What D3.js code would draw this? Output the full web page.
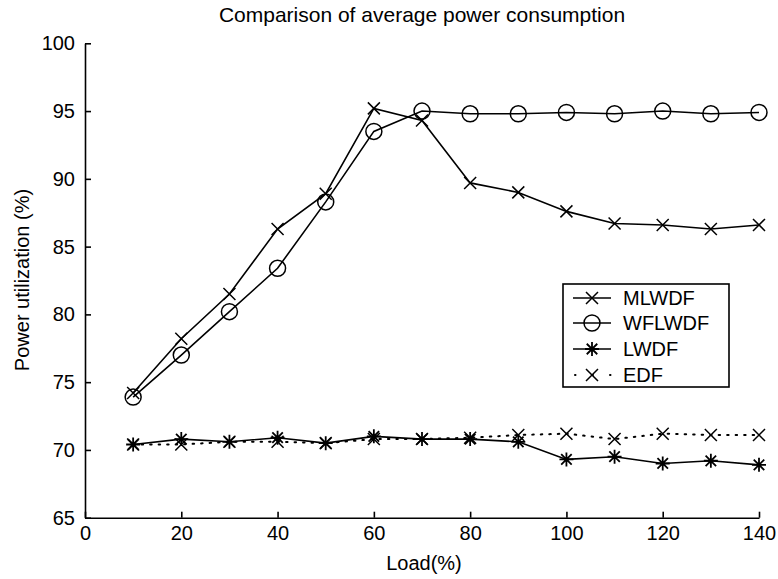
<!DOCTYPE html>
<html>
<head>
<meta charset="utf-8">
<script src="https://cdn.jsdelivr.net/npm/d3@7"></script>
<style>
  body { margin: 0; background: #fff; }
  text { font-family: "Liberation Sans", Arial, sans-serif; fill: #000; }
</style>
</head>
<body>
<div class="chart-container"></div>
<script>
var loads = [10, 20, 30, 40, 50, 60, 70, 80, 90, 100, 110, 120, 130, 140];
var mlwdf = [74.2, 78.2, 81.5, 86.3, 88.9, 95.2, 94.3, 89.7, 89.0, 87.6, 86.7, 86.6, 86.3, 86.6];
var wflwdf = [73.9, 77.0, 80.2, 83.4, 88.3, 93.5, 95.0, 94.8, 94.8, 94.9, 94.8, 95.0, 94.8, 94.9];
var lwdf = [70.4, 70.8, 70.6, 70.9, 70.5, 71.0, 70.8, 70.8, 70.6, 69.3, 69.5, 69.0, 69.2, 68.9];
var edf = [70.4, 70.4, 70.6, 70.6, 70.5, 70.8, 70.8, 70.9, 71.1, 71.2, 70.8, 71.2, 71.1, 71.1];
var seriesNames = ['MLWDF', 'WFLWDF', 'LWDF', 'EDF'];
var xTicks = [0, 20, 40, 60, 80, 100, 120, 140];
var yTicks = [65, 70, 75, 80, 85, 90, 95, 100];

var svgWidth = 778, svgHeight = 579;
var x = d3.scaleLinear().domain([0, 140]).range([85, 759]);
var y = d3.scaleLinear().domain([65, 100]).range([517.7, 43.3]);

var svg = d3.select('.chart-container').append('svg')
    .attr('width', svgWidth).attr('height', svgHeight);

// axes, ticks pointing in like matlab
var xAxis = svg.append('g').attr('transform', 'translate(0,' + y(65) + ')')
    .call(d3.axisBottom(x).tickValues(xTicks).tickSizeInner(-6).tickSizeOuter(0).tickPadding(8));
var yAxis = svg.append('g').attr('transform', 'translate(' + x(0) + ',0)')
    .call(d3.axisLeft(y).tickValues(yTicks).tickSizeInner(-6).tickSizeOuter(0).tickPadding(10));
[xAxis, yAxis].forEach(function(a){
    a.selectAll('path,line').attr('stroke', '#000').attr('stroke-width', 1.6);
    a.selectAll('text').style('font-size', '20px').style('font-family', '"Liberation Sans", Arial, sans-serif');
});

svg.append('text').attr('x', 422).attr('y', 22).attr('text-anchor', 'middle')
    .style('font-size', '21px').text('Comparison of average power consumption');
svg.append('text').attr('x', 424).attr('y', 570).attr('text-anchor', 'middle')
    .style('font-size', '20px').text('Load(%)');
svg.append('text').attr('transform', 'translate(29,280) rotate(-90)').attr('text-anchor', 'middle')
    .style('font-size', '20px').text('Power utilization (%)');

function toPoints(vals){
    return vals.map(function(v, i){ return {x: loads[i], y: v}; });
}
var line = d3.line().x(function(d){ return x(d.x); }).y(function(d){ return y(d.y); });

// marker shapes, drawn around 0,0
function crossPath(s){ return 'M' + (-s) + ',' + (-s) + 'L' + s + ',' + s + 'M' + (-s) + ',' + s + 'L' + s + ',' + (-s); }
function starPath(s){
    var d = 'M' + (-s) + ',0L' + s + ',0M0,' + (-s) + 'L0,' + s;
    var k = s * 0.75;
    return d + 'M' + (-k) + ',' + (-k) + 'L' + k + ',' + k + 'M' + (-k) + ',' + k + 'L' + k + ',' + (-k);
}
var series = [
    {name: 'MLWDF', vals: mlwdf, dash: null, marker: 'x'},
    {name: 'WFLWDF', vals: wflwdf, dash: null, marker: 'o'},
    {name: 'LWDF', vals: lwdf, dash: null, marker: '*'},
    {name: 'EDF', vals: edf, dash: '1.5,7', marker: 'x'}
];

function drawMarker(g, type){
    if(type == 'o'){
        g.append('circle').attr('r', 8).attr('fill', 'none').attr('stroke', '#000').attr('stroke-width', 1.5);
    } else if(type == 'x'){
        g.append('path').attr('d', crossPath(6)).attr('stroke', '#000').attr('stroke-width', 1.5);
    } else {
        g.append('path').attr('d', starPath(7)).attr('stroke', '#000').attr('stroke-width', 1.8);
    }
}

series.forEach(function(s){
    var pts = toPoints(s.vals);
    svg.append('path').datum(pts).attr('d', line)
        .attr('fill', 'none').attr('stroke', '#000')
        .attr('stroke-width', s.dash ? 2 : 1.6)
        .attr('stroke-linecap', s.dash ? 'round' : 'butt')
        .attr('stroke-dasharray', s.dash);
    svg.append('g').selectAll('g').data(pts).enter().append('g')
        .attr('transform', function(d){ return 'translate(' + x(d.x) + ',' + y(d.y) + ')'; })
        .each(function(){ drawMarker(d3.select(this), s.marker); });
});

// legend
var legend = svg.append('g');
legend.append('rect').attr('x', 563).attr('y', 284).attr('width', 166).attr('height', 103)
    .attr('fill', '#fff').attr('stroke', '#000').attr('stroke-width', 1.6);
var rowY = [298, 323, 349, 375];
series.forEach(function(s, i){
    var g = legend.append('g').attr('transform', 'translate(0,' + rowY[i] + ')');
    g.append('line').attr('x1', 573).attr('x2', 611).attr('y1', 0).attr('y2', 0)
        .attr('stroke', '#000').attr('stroke-width', s.dash ? 2 : 1.6)
        .attr('stroke-linecap', s.dash ? 'round' : 'butt')
        .attr('stroke-dasharray', s.dash ? '0.5,17' : null)
        .attr('stroke-dashoffset', s.dash ? -2 : null);
    drawMarker(g.append('g').attr('transform', 'translate(592,0)'), s.marker);
    g.append('text').attr('x', 623).attr('y', 7).style('font-size', '20px').text(seriesNames[i]);
});
</script>
</body>
</html>
